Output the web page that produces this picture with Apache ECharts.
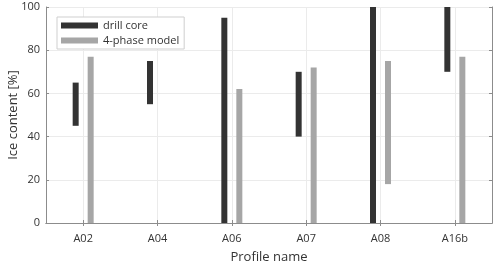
<!DOCTYPE html>
<html><head><meta charset="utf-8">
<script src="https://cdn.jsdelivr.net/npm/echarts@6/dist/echarts.min.js"></script>
<style>html,body{margin:0;padding:0;background:#fff}#c{width:500px;height:267px}</style>
</head><body><div id="c"></div>
<script>
const categories = ['A02','A04','A06','A07','A08','A16b'];
const drillLow  = [45, 55, 0, 40, 0, 70];
const drillHigh = [65, 75, 95, 70, 100, 100];
const modelLow  = [0, null, 0, 0, 18, 0];
const modelHigh = [77, null, 62, 72, 75, 77];
const yTicks = [0, 20, 40, 60, 80, 100];

const FONT = 'Open Sans';
const diff = (lo, hi) => lo.map((v, i) => (v == null || hi[i] == null) ? null : hi[i] - v);

const chart = echarts.init(document.getElementById('c'), null, {renderer: 'canvas'});
chart.setOption({
  animation: false,
  textStyle: {fontFamily: FONT},
  grid: {left: 46, right: 8, top: 7, bottom: 44, containLabel: false, outerBoundsMode: 'none'},
  legend: {
    data: ['drill core', '4-phase model'],
    orient: 'vertical', left: 57, top: 17,
    icon: 'rect', itemWidth: 37, itemHeight: 6, itemGap: 4,
    padding: [3, 5, 3, 4],
    borderColor: '#cfcfcf', borderWidth: 1, backgroundColor: '#fff',
    textStyle: {fontFamily: FONT, fontSize: 11, color: '#333'}
  },
  xAxis: [{
    type: 'category', data: categories, position: 'bottom',
    name: 'Profile name', nameLocation: 'middle', nameGap: 28, nameMoveOverlap: false,
    nameTextStyle: {fontFamily: FONT, fontSize: 13, color: '#333'},
    axisLine: {lineStyle: {color: '#8c8c8c', width: 1}},
    axisTick: {show: true, inside: true, alignWithLabel: true, length: 3, lineStyle: {color: '#8c8c8c'}},
    axisLabel: {fontFamily: FONT, fontSize: 11, color: '#333', margin: 10},
    splitLine: {show: true, alignWithLabel: true, lineStyle: {color: '#ebebeb'}}
  }, {
    type: 'category', data: categories, position: 'top',
    axisLine: {lineStyle: {color: '#8c8c8c', width: 1}},
    axisTick: {show: true, inside: true, alignWithLabel: true, length: 3, lineStyle: {color: '#8c8c8c'}},
    axisLabel: {show: false}, splitLine: {show: false}
  }],
  yAxis: [{
    type: 'value', min: 0, max: 100, interval: 20,
    name: 'Ice content [%]', nameLocation: 'middle', nameGap: 26, nameMoveOverlap: false,
    nameTextStyle: {fontFamily: FONT, fontSize: 13, color: '#333'},
    axisLine: {show: true, lineStyle: {color: '#8c8c8c', width: 1}},
    axisTick: {show: true, inside: true, length: 3, lineStyle: {color: '#8c8c8c'}},
    axisLabel: {fontFamily: FONT, fontSize: 11, color: '#333', margin: 6,
      formatter: v => yTicks.includes(v) ? String(v) : ''},
    splitLine: {show: true, lineStyle: {color: '#ebebeb'}}
  }, {
    type: 'value', min: 0, max: 100, interval: 20, position: 'right',
    axisLine: {show: true, lineStyle: {color: '#8c8c8c', width: 1}},
    axisTick: {show: true, inside: true, length: 3, lineStyle: {color: '#8c8c8c'}},
    axisLabel: {show: false}, splitLine: {show: false}
  }],
  series: [
    {name: 'drill base', type: 'bar', stack: 'd', barWidth: 6, barGap: '150%',
     data: drillLow, itemStyle: {color: 'rgba(0,0,0,0)'}, silent: true},
    {name: 'drill core', type: 'bar', stack: 'd', barWidth: 6, barGap: '150%',
     data: diff(drillLow, drillHigh), itemStyle: {color: '#333333'}},
    {name: 'model base', type: 'bar', stack: 'm', barWidth: 6, barGap: '150%',
     data: modelLow, itemStyle: {color: 'rgba(0,0,0,0)'}, silent: true},
    {name: '4-phase model', type: 'bar', stack: 'm', barWidth: 6, barGap: '150%',
     data: diff(modelLow, modelHigh), itemStyle: {color: '#a6a6a6'}}
  ]
});
</script></body></html>
